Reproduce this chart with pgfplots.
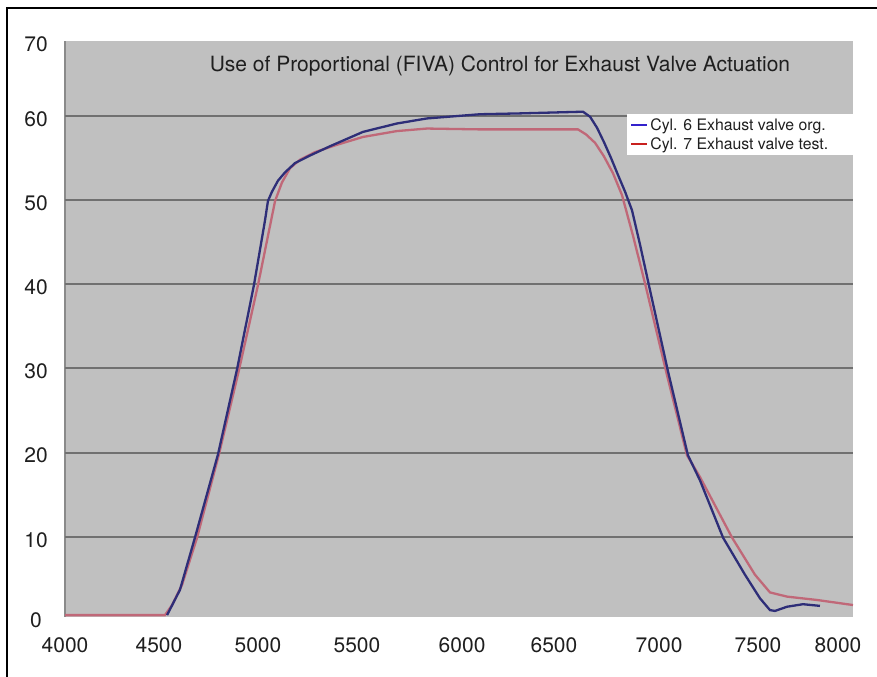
\documentclass[border=0pt]{standalone}
\usepackage{pgfplots}
\pgfplotsset{compat=1.18}
\usepackage{fontspec}
\setmainfont{TeX Gyre Heros}
\definecolor{bggray}{HTML}{C0C0C0}
\definecolor{gridgray}{HTML}{707070}
\definecolor{axgray}{HTML}{8A8A8A}
\definecolor{curveblue}{HTML}{2E2E78}
\definecolor{curvered}{HTML}{C06878}
\definecolor{legblue}{HTML}{3322CC}
\definecolor{legred}{HTML}{C8201E}
\begin{document}
\begin{tikzpicture}
\useasboundingbox (0bp,0bp) rectangle (877bp,677bp);
\draw[line width=1.2bp, black] (7bp,0bp) -- (7bp,669bp) -- (877bp,669bp);
\begin{axis}[
  at={(65bp,60bp)}, anchor=south west,
  scale only axis, width=788bp, height=576bp,
  xmin=4000, xmax=8100, ymin=0.48, ymax=68.9,
  axis background/.style={fill=bggray},
  axis lines*=left,
  x axis line style={draw=none},
  y axis line style={draw=axgray, line width=2bp},
  major tick length=0pt,
  xtick={4000,4489,5004,5519,6066,6544,7091,7606,8022},
  xticklabels={4000,4500,5000,5500,6000,6500,7000,7500,8000},
  ytick={0.48,10,20,30,40,50,60,68.9},
  yticklabels={0,10,20,30,40,50,60,70},
  extra y ticks={10,20,30,40,50,60},
  extra y tick labels={},
  extra y tick style={grid=major},
  major grid style={draw=gridgray, line width=2bp},
  /pgf/number format/assume math mode=true,
  ticklabel style={font=\fontsize{21bp}{25bp}\selectfont, text=black!88},
  yticklabel style={anchor=center, xshift=-29bp, yshift=-3bp},
  xticklabel style={anchor=center, yshift=-28bp},
  title={Use of Proportional (FIVA) Control for Exhaust Valve Actuation},
  title style={at={(0.552,0.946)}, anchor=center, font=\fontsize{21bp}{24bp}\selectfont, text=black!88},
  legend style={at={(1.003,0.873)}, anchor=north east, fill=white, draw=none,
    font=\fontsize{15.8bp}{18bp}\selectfont, inner xsep=3bp, inner ysep=2bp,
    row sep=2bp, cells={anchor=west, inner ysep=1bp}, text=black!88},
  legend image code/.code={\draw[#1] (0bp,0bp) -- (16bp,0bp);},
]
\addplot[color=curvered, line width=2.3bp, forget plot] coordinates {
(4000,0.7)(4286,0.7)(4520,0.7)(4557,1.9)(4609,4.3)(4687,9.9)(4801,19.8)(4905,29.8)
(5004,39.9)(5093,49.9)(5129,52.1)(5171,53.8)(5223,54.8)(5301,55.7)(5405,56.5)(5550,57.5)
(5727,58.2)(5883,58.5)(6159,58.4)(6669,58.4)(6711,57.8)(6758,56.8)(6804,55.2)(6851,53.2)
(6898,50.6)(6955,45.8)(7018,40.1)(7127,29.7)(7236,19.7)(7304,17.1)(7471,9.9)(7590,5.5)
(7668,3.4)(7757,2.9)(7913,2.5)(8100,1.9)};
\addplot[color=curveblue, line width=2.3bp, forget plot] coordinates {
(4531,0.7)(4598,3.7)(4676,9.9)(4796,19.8)(4895,29.9)(4983,39.9)(5040,47.5)(5056,49.9)
(5077,51.0)(5108,52.3)(5145,53.3)(5197,54.4)(5275,55.3)(5379,56.4)(5550,58.1)(5727,59.1)
(5883,59.7)(6159,60.2)(6367,60.3)(6695,60.5)(6732,59.9)(6768,58.6)(6804,56.9)(6841,55.0)
(6877,53.0)(6914,51.0)(6950,48.8)(6992,44.7)(7039,39.8)(7137,29.7)(7241,19.7)(7304,16.7)
(7424,9.9)(7538,5.5)(7616,2.7)(7668,1.3)(7694,1.2)(7757,1.7)(7840,2.0)(7928,1.8)};
\addlegendimage{color=legblue, line width=2.2bp}
\addlegendentry{Cyl. 6 Exhaust valve org.\hspace*{22bp}\mbox{}}
\addlegendimage{color=legred, line width=2.2bp}
\addlegendentry{Cyl. 7 Exhaust valve test.\hspace*{22bp}\mbox{}}
\end{axis}
\end{tikzpicture}
\end{document}
